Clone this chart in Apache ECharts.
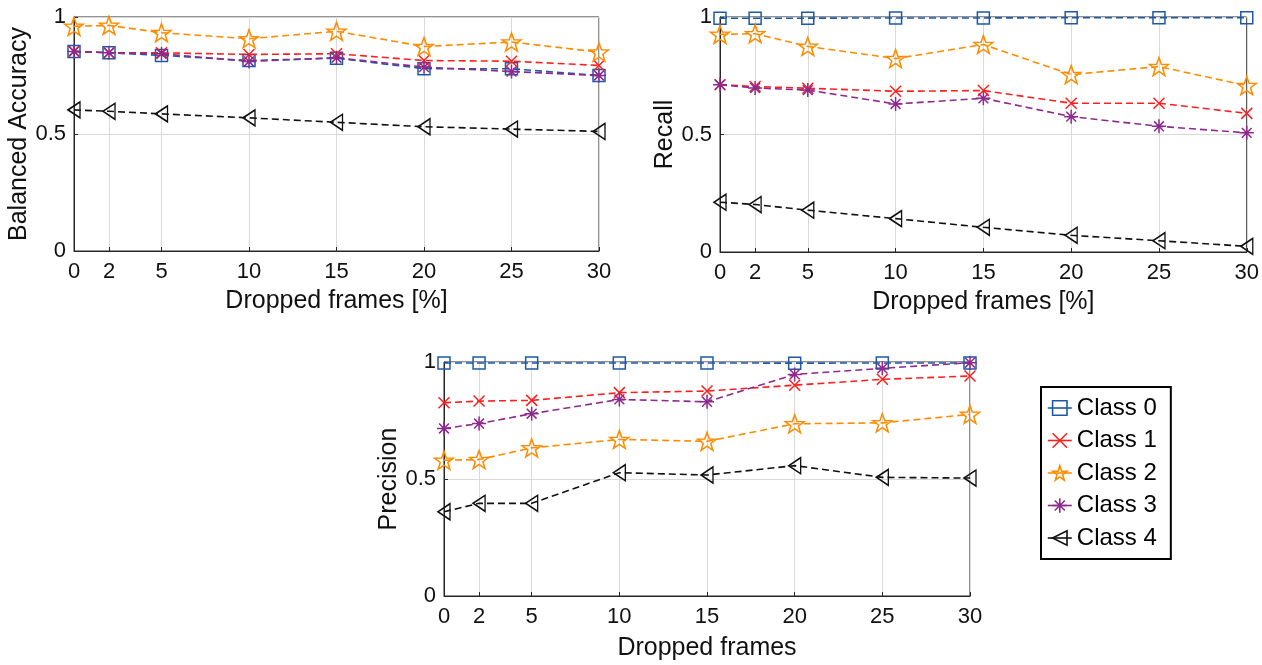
<!DOCTYPE html>
<html>
<head>
<meta charset="utf-8">
<script src="https://cdn.jsdelivr.net/npm/echarts@6/dist/echarts.min.js"></script>
<style>html,body{margin:0;padding:0;background:#fff;}#chart{width:1262px;height:665px;}</style>
</head>
<body>
<div id="chart"></div>
<script>
// ---- data ----
var xTicks = [0, 2, 5, 10, 15, 20, 25, 30];
var classNames = ['Class 0', 'Class 1', 'Class 2', 'Class 3', 'Class 4'];

var baClass0 = [0.853, 0.847, 0.836, 0.814, 0.824, 0.779, 0.779, 0.750];
var baClass1 = [0.853, 0.847, 0.847, 0.840, 0.843, 0.814, 0.811, 0.793];
var baClass2 = [0.960, 0.964, 0.933, 0.907, 0.939, 0.874, 0.893, 0.850];
var baClass3 = [0.853, 0.847, 0.843, 0.810, 0.826, 0.786, 0.767, 0.750];
var baClass4 = [0.603, 0.597, 0.586, 0.569, 0.550, 0.531, 0.521, 0.511];

var recClass0 = [0.995, 0.995, 0.995, 0.996, 0.996, 0.997, 0.997, 0.997];
var recClass1 = [0.712, 0.704, 0.697, 0.684, 0.687, 0.633, 0.633, 0.590];
var recClass2 = [0.926, 0.929, 0.875, 0.823, 0.883, 0.755, 0.789, 0.708];
var recClass3 = [0.712, 0.698, 0.689, 0.630, 0.654, 0.576, 0.535, 0.507];
var recClass4 = [0.212, 0.202, 0.178, 0.142, 0.105, 0.071, 0.048, 0.024];

var preClass0 = [0.996, 0.996, 0.996, 0.996, 0.996, 0.995, 0.996, 0.996];
var preClass1 = [0.826, 0.833, 0.836, 0.869, 0.876, 0.901, 0.926, 0.940];
var preClass2 = [0.580, 0.583, 0.633, 0.669, 0.661, 0.736, 0.740, 0.776];
var preClass3 = [0.716, 0.737, 0.779, 0.840, 0.830, 0.947, 0.973, 0.997];
var preClass4 = [0.360, 0.396, 0.396, 0.527, 0.517, 0.557, 0.507, 0.504];

var yTitles = ['Balanced Accuracy', 'Recall', 'Precision'];
var xTitles = ['Dropped frames [%]', 'Dropped frames [%]', 'Dropped frames'];

// ---- styles ----
var colors = ['#1c5aa6', '#ff1f1f', '#ff8c00', '#8e2a8e', '#111111'];
var symbols = [
  'path://M0,0 L10,0 L10,10 L0,10 Z',
  'path://M0,0 L10,10 M10,0 L0,10',
  'path://M10,0 L12.35,6.76 L19.51,6.91 L13.80,11.24 L15.88,18.09 L10,14 L4.12,18.09 L6.20,11.24 L0.49,6.91 L7.65,6.76 Z',
  'path://M10,0 L10,20 M0,10 L20,10 M3,3 L17,17 M17,3 L3,17',
  'path://M0,5 L10,0 L10,10 Z'
];
var symbolSizes = [[12, 12], [11, 11], [19, 18], [14, 14], [12, 16]];

var grids = [
  {left: 74, top: 17, width: 525, height: 234},
  {left: 720, top: 17, width: 527, height: 235},
  {left: 444, top: 362, width: 526, height: 234}
];
var nameGapsY = [41, 42, 41];
var nameGapsX = [38, 38, 40];

var txt = '#111';
var font = 'Liberation Sans, Arial, sans-serif';

var xAxes = [], yAxes = [];
for (var i = 0; i < 3; i++) {
  grids[i].show = true;
  grids[i].borderColor = '#262626';
  grids[i].borderWidth = 1;
  grids[i].backgroundColor = '#fff';
  xAxes.push({
    gridIndex: i, type: 'value', min: 0, max: 30,
    name: xTitles[i], nameLocation: 'middle', nameGap: nameGapsX[i],
    nameTextStyle: {fontSize: 25, color: txt, fontFamily: font},
    axisLine: {show: true, lineStyle: {color: '#262626', width: 1}},
    axisTick: {show: true, inside: true, length: 4, customValues: xTicks, lineStyle: {color: '#262626'}},
    axisLabel: {customValues: xTicks, fontSize: 22, color: txt, fontFamily: font, margin: 10},
    splitLine: {show: true, lineStyle: {color: '#d9d9d9', width: 1}}
  });
  yAxes.push({
    gridIndex: i, type: 'value', min: 0, max: 1, interval: 0.5,
    name: yTitles[i], nameLocation: 'middle', nameGap: nameGapsY[i], nameRotate: 90,
    nameTextStyle: {fontSize: 25, color: txt, fontFamily: font},
    axisLine: {show: true, lineStyle: {color: '#262626', width: 1}},
    axisTick: {show: true, inside: true, length: 4, lineStyle: {color: '#262626'}},
    axisLabel: {fontSize: 22, color: txt, fontFamily: font, margin: 8},
    splitLine: {show: true, lineStyle: {color: '#d9d9d9', width: 1}}
  });
}

var datasets = [
  [baClass0, baClass1, baClass2, baClass3, baClass4],
  [recClass0, recClass1, recClass2, recClass3, recClass4],
  [preClass0, preClass1, preClass2, preClass3, preClass4]
];

var series = [];
for (var g = 0; g < 3; g++) {
  for (var c = 0; c < 5; c++) {
    var vals = datasets[g][c];
    var pts = [];
    for (var k = 0; k < xTicks.length; k++) pts.push([xTicks[k], vals[k]]);
    series.push({
      name: classNames[c], type: 'line', xAxisIndex: g, yAxisIndex: g,
      data: pts, symbol: symbols[c], symbolSize: symbolSizes[c], showAllSymbol: true,
      clip: false, animation: false,
      lineStyle: {color: colors[c], width: 1.6, type: [7, 4]},
      itemStyle: {color: 'rgba(255,255,255,0)', borderColor: colors[c], borderWidth: 1.5},
      emphasis: {disabled: true},
      z: 2 + c
    });
  }
}

var legendData = [];
for (var c2 = 0; c2 < 5; c2++) {
  legendData.push({
    name: classNames[c2],
    itemStyle: {color: 'rgba(255,255,255,0)', borderColor: colors[c2], borderWidth: 1.6},
    lineStyle: {color: colors[c2], type: 'solid', width: 1.6}
  });
}

var chart = echarts.init(document.getElementById('chart'), null, {renderer: 'canvas'});
chart.setOption({
  animation: false,
  backgroundColor: '#fff',
  grid: grids,
  xAxis: xAxes,
  yAxis: yAxes,
  legend: {
    data: legendData, orient: 'vertical', left: 1041, top: 387,
    backgroundColor: '#fff', borderColor: '#000', borderWidth: 2,
    padding: [9, 14, 9, 6], itemGap: 8.5, itemWidth: 24, itemHeight: 18,
    textStyle: {fontSize: 24, color: '#000', fontFamily: font},
    selectedMode: false
  },
  series: series
});
</script>
</body>
</html>
